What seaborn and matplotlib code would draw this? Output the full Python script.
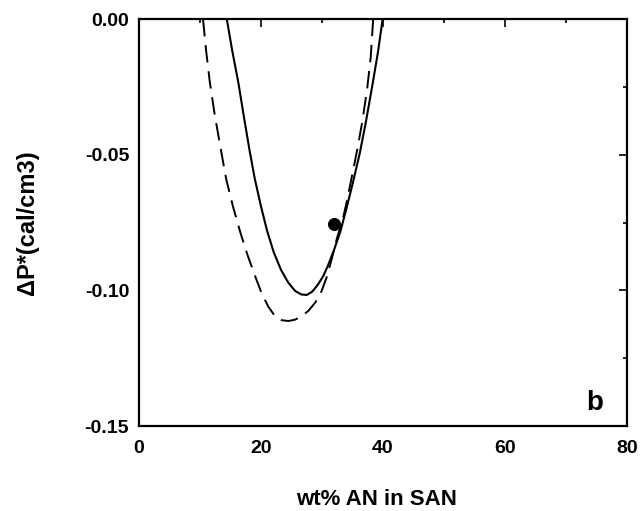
import matplotlib
matplotlib.use("Agg")
import matplotlib.pyplot as plt
import seaborn as sns
import pandas as pd
from matplotlib.ticker import MultipleLocator

# Solid curve
solid_x = [14.4, 15.3, 16.3, 17.2, 18.1, 19.0, 20.0, 21.0, 22.1, 23.3, 24.5, 25.6, 26.6, 27.5, 28.4, 29.3, 30.2, 31.0, 32.0, 33.0, 34.0, 35.0, 36.2, 37.2, 38.3, 39.2, 39.95]
solid_y = [0.0, -0.0118, -0.0235, -0.0360, -0.0480, -0.0590, -0.0690, -0.0780, -0.0860, -0.0925, -0.0972, -0.1002, -0.1015, -0.1017, -0.1005, -0.0980, -0.0948, -0.0908, -0.0850, -0.0785, -0.0700, -0.0610, -0.0495, -0.0380, -0.0240, -0.0120, 0.0]

# Dashed curve
dash_x = [10.5, 11.0, 11.6, 12.4, 13.3, 14.3, 15.4, 16.6, 17.8, 19.0, 20.1, 21.2, 22.3, 23.4, 24.5, 25.6, 26.7, 27.8, 28.9, 29.9, 30.8, 31.6, 32.5, 33.4, 34.2, 35.0, 35.8, 36.6, 37.4, 38.0, 38.4]
dash_y = [0.0, -0.0115, -0.0230, -0.0350, -0.0465, -0.0590, -0.0690, -0.0785, -0.0870, -0.0945, -0.1010, -0.1060, -0.1095, -0.1110, -0.1113, -0.1108, -0.1095, -0.1075, -0.1045, -0.1005, -0.0950, -0.0885, -0.0805, -0.0740, -0.0660, -0.0570, -0.0480, -0.0380, -0.0260, -0.0140, 0.0]

# Data point
pt_x = [32.0]
pt_y = [-0.0756]

x_ticks = [0, 20, 40, 60, 80]
y_ticks = [-0.15, -0.10, -0.05, 0.00]

sns.set_theme(style="white")
plt.rcParams['font.family'] = ['Liberation Sans', 'DejaVu Sans']
plt.rcParams['font.weight'] = 'bold'
plt.rcParams['text.color'] = 'black'
plt.rcParams['axes.labelcolor'] = 'black'
plt.rcParams['xtick.color'] = 'black'
plt.rcParams['ytick.color'] = 'black'

fig = plt.figure(figsize=(6.41, 5.11), dpi=100)
ax = fig.add_axes([0.2168, 0.1663, 0.978 - 0.2168, 0.9628 - 0.1663])

df_s = pd.DataFrame({"x": solid_x, "y": solid_y})
df_d = pd.DataFrame({"x": dash_x, "y": dash_y})
sns.lineplot(data=df_s, x="x", y="y", ax=ax, color="black", lw=1.5, sort=False)
sns.lineplot(data=df_d, x="x", y="y", ax=ax, color="black", lw=1.4, sort=False)
ax.lines[-1].set_dashes([9, 4.5])
sns.scatterplot(x=pt_x, y=pt_y, ax=ax, color="black", s=75, edgecolor="black", zorder=5)

ax.set_xlim(0, 80)
ax.set_ylim(-0.15, 0.0)
ax.set_xticks(x_ticks)
ax.set_yticks(y_ticks)
ax.set_xticklabels([str(t) for t in x_ticks], fontsize=14, fontweight='bold')
ax.set_yticklabels([f"{t:.2f}" for t in y_ticks], fontsize=14, fontweight='bold')
ax.xaxis.set_minor_locator(MultipleLocator(10))
ax.yaxis.set_minor_locator(MultipleLocator(0.025))
ax.tick_params(which='both', direction='in', top=True, right=True, color='black')
ax.tick_params(axis='x', which='major', length=6, width=1.2, pad=10)
ax.tick_params(axis='y', which='major', length=6, width=1.2, pad=7)
ax.tick_params(which='minor', length=3, width=1.2)
for s in ax.spines.values():
    s.set_color('black')
    s.set_linewidth(1.6)

ax.set_xlabel("wt% AN in SAN", fontsize=16, fontweight='bold')
ax.set_ylabel("ΔP*(cal/cm3)", fontsize=17, fontweight='bold')
ax.xaxis.set_label_coords(0.486, -0.155)
ax.yaxis.set_label_coords(-0.205, 0.5)
ax.text(0.952, 0.04, "b", transform=ax.transAxes, fontsize=20, fontweight='bold',
        ha='right', va='baseline')

fig.savefig("out.png", dpi=100)
